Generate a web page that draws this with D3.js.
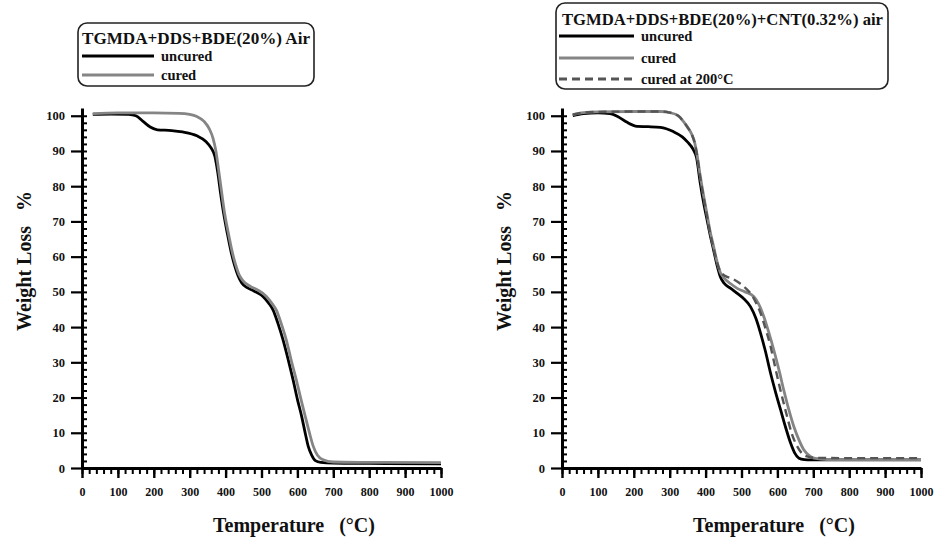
<!DOCTYPE html>
<html>
<head>
<meta charset="utf-8">
<script src="https://cdn.jsdelivr.net/npm/d3@7"></script>
<style>
  html, body { margin: 0; padding: 0; background: #fff; }
  svg { display: block; }
  text { font-family: "Liberation Serif", "Times New Roman", serif; font-weight: bold; fill: #111; }
</style>
</head>
<body>
<svg id="chart" width="944" height="540"></svg>
<script>
// ---------- DATA ----------
const xTicks = [0, 100, 200, 300, 400, 500, 600, 700, 800, 900, 1000];
const yTicks = [0, 10, 20, 30, 40, 50, 60, 70, 80, 90, 100];

const leftTitle = "TGMDA+DDS+BDE(20%) Air";
const rightTitle = "TGMDA+DDS+BDE(20%)+CNT(0.32%) air";
const leftSeriesNames = ["uncured", "cured"];
const rightSeriesNames = ["uncured", "cured", "cured at 200°C"];

// [Temperature °C, Weight %]
const leftUncured = [[30,100.4],[80,100.5],[130,100.4],[150,100.0],[170,98.4],[190,96.8],[210,96.0],[250,95.8],[280,95.4],[320,94.3],[345,92.7],[360,90.8],[370,88.5],[378,84],[386,78],[395,72],[405,66.5],[415,61.5],[425,57.5],[435,54.5],[445,52.5],[460,51.2],[480,50.2],[504,48.7],[520,46.8],[532,44.9],[546,41],[560,36.4],[575,30.5],[588,25],[600,19.5],[612,14.6],[622,9.8],[630,6.2],[640,3.6],[650,2.1],[665,1.6],[700,1.4],[800,1.3],[1000,1.2]];
const leftCured = [[30,100.6],[100,100.8],[200,100.8],[270,100.7],[300,100.4],[320,99.8],[340,98.4],[355,96.2],[365,93.6],[373,90],[380,85],[388,79],[397,72.5],[407,67],[417,62],[427,58],[437,55],[448,53.2],[468,51.6],[490,50.5],[513,48.8],[530,46.6],[541,44.9],[555,41],[569,36.4],[583,30.5],[597,25],[610,19.5],[622,14.6],[634,9.8],[644,6.2],[656,3.6],[670,2.4],[700,1.7],[800,1.6],[1000,1.5]];

const rightUncured = [[30,100.0],[60,100.6],[100,100.8],[134,100.6],[155,99.8],[180,98.2],[209,97.0],[240,96.9],[274,96.7],[310,95.5],[335,94],[350,92.5],[365,90.5],[375,88],[385,81],[395,75],[404,70.5],[413,66],[422,62],[432,57.5],[441,54.3],[451,52.5],[470,51],[488,49.6],[505,48.2],[525,45.8],[540,42.5],[553,38.3],[567,33],[581,26.9],[595,21.5],[609,16.5],[623,11.5],[637,7],[648,4.3],[660,2.8],[675,2.4],[693,2.3],[800,2.3],[1000,2.3]];
const rightCured = [[30,100.3],[60,100.9],[100,101.1],[200,101.2],[274,101.2],[300,100.9],[325,99.9],[338,98.4],[350,96.7],[362,94.6],[370,92.2],[376,89],[385,83],[395,77],[404,72],[413,67],[422,63],[432,58.5],[441,55.5],[451,54],[470,52.3],[488,51],[510,50],[534,48.7],[548,46.5],[562,43],[576,38.5],[590,33.5],[604,28],[618,22],[632,16.5],[646,11.7],[660,8],[674,5.1],[688,3.6],[702,2.8],[739,2.4],[850,2.4],[1000,2.4]];
const rightCured200 = [[30,100.3],[60,100.9],[100,101.1],[200,101.2],[274,101.2],[300,100.9],[325,99.9],[338,98.4],[350,96.7],[362,94.6],[370,92.2],[376,89],[385,82.5],[395,76.5],[404,71.5],[413,66.5],[422,62.5],[432,58.3],[441,55.8],[455,54.5],[475,53.7],[497,52.3],[512,51],[525,49.6],[540,47],[553,44],[567,39.5],[581,34.5],[593,29],[604,24],[616,19],[627,14.6],[641,9.5],[656,6],[670,4],[685,3.2],[700,2.9],[800,2.8],[1000,2.8]];

// ---------- STYLES ----------
const styles = {
  "uncured": { color: "#000", width: 2.8, dash: null },
  "cured": { color: "#858585", width: 2.8, dash: null },
  "cured at 200°C": { color: "#555", width: 2.4, dash: "8,5" }
};

const svg = d3.select("#chart");

function panel(cfg) {
  const x = d3.scaleLinear().domain([0, 1000]).range([cfg.x0, cfg.x0 + 359]);
  const y = d3.scaleLinear().domain([0, 102.2]).range([468, 108]);
  const g = svg.append("g");

  // minor y ticks (inward)
  g.append("g").attr("transform", `translate(${cfg.x0},0)`)
    .call(d3.axisRight(y).tickValues(d3.range(0, 101, 2)).tickSize(5).tickSizeOuter(0).tickFormat(""))
    .call(a => a.select(".domain").remove())
    .call(a => a.selectAll("line").attr("stroke-width", 2).attr("stroke", "#000"));
  // major y ticks
  g.append("g").attr("transform", `translate(${cfg.x0},0)`)
    .call(d3.axisLeft(y).tickValues(yTicks).tickSize(11).tickSizeOuter(0).tickPadding(6))
    .call(a => a.select(".domain").attr("stroke-width", 3))
    .call(a => a.selectAll("line").attr("stroke-width", 2.2))
    .call(a => a.selectAll("text").attr("font-size", 12.5).attr("font-family", "Liberation Serif").attr("font-weight", "bold").attr("fill", "#111"));
  // minor x ticks
  g.append("g").attr("transform", `translate(0,468)`)
    .call(d3.axisBottom(x).tickValues(d3.range(0, 1001, 20)).tickSize(6).tickSizeOuter(0).tickFormat(""))
    .call(a => a.select(".domain").remove())
    .call(a => a.selectAll("line").attr("stroke-width", 2).attr("stroke", "#000"));
  // major x ticks
  g.append("g").attr("transform", `translate(0,468)`)
    .call(d3.axisBottom(x).tickValues(xTicks).tickSize(10).tickSizeOuter(0).tickPadding(9).tickFormat(d3.format("d")))
    .call(a => a.select(".domain").attr("stroke-width", 3))
    .call(a => a.selectAll("line").attr("stroke-width", 2.4))
    .call(a => a.selectAll("text").attr("font-size", 12).attr("font-family", "Liberation Serif").attr("font-weight", "bold").attr("fill", "#111"));

  // axis titles
  g.append("text").attr("x", cfg.x0 + 212).attr("y", 532).attr("text-anchor", "middle")
    .attr("font-size", 20).attr("xml:space", "preserve").text("Temperature   (°C)");
  g.append("text").attr("transform", `translate(${cfg.x0 - 51},261) rotate(-90)`)
    .attr("text-anchor", "middle").attr("font-size", 20).attr("xml:space", "preserve").text("Weight Loss   %");

  // curves
  const line = d3.line().x(d => x(d[0])).y(d => y(d[1])).curve(d3.curveMonotoneX);
  cfg.series.forEach(s => {
    const st = styles[s.name];
    g.append("path").datum(s.data).attr("d", line).attr("fill", "none")
      .attr("stroke", st.color).attr("stroke-width", st.width)
      .attr("stroke-dasharray", st.dash).attr("stroke-linejoin", "round");
  });

  // legend box
  const L = cfg.legend;
  g.append("rect").attr("x", L.x).attr("y", L.y).attr("width", L.w).attr("height", L.h)
    .attr("rx", 9).attr("fill", "#fff").attr("stroke", "#222").attr("stroke-width", 1.6);
  g.append("text").attr("x", L.tx).attr("y", L.ty).attr("font-size", 16)
    .attr("textLength", L.tw).attr("lengthAdjust", "spacingAndGlyphs").text(cfg.title);
  cfg.series.forEach((s, i) => {
    const st = styles[s.name];
    const ly = L.rows[i];
    g.append("line").attr("x1", L.lx1).attr("x2", L.lx2).attr("y1", ly).attr("y2", ly)
      .attr("stroke", st.color).attr("stroke-width", st.width + 0.4).attr("stroke-dasharray", st.dash);
    g.append("text").attr("x", L.lx2 + 7).attr("y", ly + 5).attr("font-size", 14.5).text(s.name);
  });
}

panel({
  x0: 82,
  title: leftTitle,
  series: [
    { name: leftSeriesNames[0], data: leftUncured },
    { name: leftSeriesNames[1], data: leftCured }
  ],
  legend: { x: 78, y: 23, w: 236, h: 63, tx: 82, ty: 44, tw: 228, lx1: 82, lx2: 154, rows: [56, 75] }
});

panel({
  x0: 562,
  title: rightTitle,
  series: [
    { name: rightSeriesNames[0], data: rightUncured },
    { name: rightSeriesNames[1], data: rightCured },
    { name: rightSeriesNames[2], data: rightCured200 }
  ],
  legend: { x: 556, y: 3, w: 332, h: 86, tx: 562, ty: 25, tw: 321, lx1: 559, lx2: 634, rows: [36, 58, 79] }
});
</script>
</body>
</html>
